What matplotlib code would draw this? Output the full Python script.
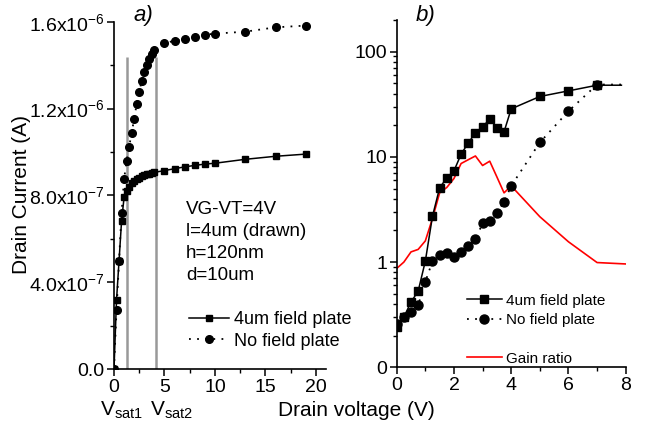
import matplotlib
matplotlib.use("Agg")
import matplotlib.pyplot as plt
from matplotlib.lines import Line2D
from matplotlib.ticker import MultipleLocator, LogLocator, FixedLocator, NullFormatter

plt.rcParams['font.family'] = ['Liberation Sans', 'DejaVu Sans']
plt.rcParams['mathtext.fontset'] = 'custom'
plt.rcParams['mathtext.rm'] = 'Liberation Sans'
plt.rcParams['mathtext.it'] = 'Liberation Sans:italic'

# ---- panel a: output characteristics (linear) ----
v_a = [0, 0.25, 0.5, 0.75, 1.0, 1.25, 1.5, 1.75, 2.0, 2.25, 2.5, 2.75, 3.0,
       3.25, 3.5, 3.75, 4.0, 5, 6, 7, 8, 9, 10, 13, 16, 19]
i_fieldplate = [0, 0.318, 0.499, 0.682, 0.791, 0.821, 0.840, 0.855, 0.866,
                0.875, 0.882, 0.888, 0.893, 0.897, 0.900, 0.903, 0.906,
                0.914, 0.923, 0.931, 0.938, 0.944, 0.948, 0.966, 0.980, 0.990]
i_nofieldplate = [0, 0.272, 0.498, 0.720, 0.875, 0.958, 1.024, 1.089, 1.152,
                  1.222, 1.278, 1.328, 1.368, 1.402, 1.430, 1.451, 1.470,
                  1.500, 1.513, 1.519, 1.528, 1.540, 1.545, 1.554, 1.574, 1.582]
v_sat = [1.25, 4.15]
yticks_a = [0, 0.4e-6, 0.8e-6, 1.2e-6, 1.6e-6]
ytick_labels_a = ['0.0', r'4.0x10$^{-7}$', r'8.0x10$^{-7}$',
                  r'1.2x10$^{-6}$', r'1.6x10$^{-6}$']
xticks_a = [0, 5, 10, 15, 20]
conditions = ['VG-VT=4V', 'l=4um (drawn)', 'h=120nm', 'd=10um']

# ---- panel b: log scale, with gain ratio ----
v_b = [0, 0.25, 0.5, 0.75, 1.0, 1.25, 1.5, 1.75, 2.0, 2.25, 2.5, 2.75, 3.0,
       3.25, 3.5, 3.75, 4.0, 5, 6, 7, 7.85]
g_fieldplate = [0.24, 0.30, 0.417, 0.53, 1.02, 2.73, 5.08, 6.32, 7.36, 10.6,
                13.6, 16.9, 19.3, 22.8, 19.0, 17.3, 28.6, 37.5, 42.4, 48.0, 48.0]
g_nofieldplate = [0.26, 0.30, 0.335, 0.39, 0.65, 1.02, 1.16, 1.22, 1.12, 1.24,
                  1.43, 1.65, 2.33, 2.47, 2.94, 3.74, 5.3, 13.7, 27.2, 48.7, 48.7]
v_gain = [0, 0.25, 0.5, 0.75, 1.0, 1.25, 1.5, 1.75, 2.0, 2.25, 2.5, 2.75, 3.0,
          3.25, 3.5, 3.75, 4.0, 5, 6, 7, 8]
gain_ratio = [0.87, 1.0, 1.25, 1.32, 1.59, 2.6, 4.55, 5.12, 6.23, 8.65, 9.4,
              10.2, 8.28, 9.1, 6.45, 4.55, 5.3, 2.7, 1.56, 0.99, 0.96]
yticks_b = [0.1, 1, 10, 100]
ytick_labels_b = ['0', '1', '10', '100']
xticks_b = [0, 2, 4, 6, 8]

W, H = 648, 425
fig = plt.figure(figsize=(W / 100, H / 100), dpi=100)


def axes_px(x0, y0, x1, y1):
    return fig.add_axes([x0 / W, 1 - y1 / H, (x1 - x0) / W, (y1 - y0) / H])


ax1 = axes_px(114, 21.7, 326, 369)
ax2 = axes_px(396.7, 20, 625.7, 367.3)

dotted = (0, (1, 3.5))
tick_fs = 14

for ax in (ax1, ax2):
    for s in ('top', 'right'):
        ax.spines[s].set_visible(False)
    for s in ('left', 'bottom'):
        ax.spines[s].set_linewidth(1.2)
    ax.tick_params(which='major', direction='out', length=5, width=1.1,
                   labelsize=tick_fs, pad=2)
    ax.tick_params(which='minor', direction='out', length=3, width=1.0)

# panel a
ax1.vlines(v_sat, 0, 1.437e-6, colors='#999999', linewidth=1.8, zorder=1)
ax1.plot(v_a, [i * 1e-6 for i in i_fieldplate], color='black', lw=1.1,
         marker='s', ms=5, label='4um field plate', zorder=3)
ax1.plot(v_a, [i * 1e-6 for i in i_nofieldplate], color='black', lw=1.3,
         ls=dotted, marker='o', ms=5.5, label='No field plate', zorder=3)
ax1.set_xlim(0, 21)
ax1.set_ylim(0, 1.6e-6)
ax1.set_xticks(xticks_a)
ax1.xaxis.set_minor_locator(MultipleLocator(2.5))
ax1.set_yticks(yticks_a, ytick_labels_a)
ax1.yaxis.set_minor_locator(MultipleLocator(0.2e-6))
for lab in ax1.get_yticklabels():
    lab.set_fontsize(tick_fs)

ax1.legend(loc='upper left', bbox_to_anchor=(180 / W, 1 - 302 / H),
           bbox_transform=fig.transFigure, frameon=False, fontsize=13,
           handlelength=2.2, handletextpad=0.3, borderpad=0,
           labelspacing=0.25)

for k, line in enumerate(conditions):
    fig.text(186 / W, 1 - (210 + 22 * k) / H, line, fontsize=13.5,
             ha='left', va='center')

fig.text(143 / W, 1 - 16 / H, 'a)', fontsize=16, style='italic',
         ha='center', va='center')
fig.text(121 / W, 1 - 410 / H, r'V$_{\mathrm{sat1}}$', fontsize=15,
         ha='center', va='center')
fig.text(171 / W, 1 - 410 / H, r'V$_{\mathrm{sat2}}$', fontsize=15,
         ha='center', va='center')
fig.text(22 / W, 1 - 195 / H, 'Drain Current (A)', fontsize=15,
         rotation=90, ha='center', va='center')
fig.text(356 / W, 1 - 410 / H, 'Drain voltage (V)', fontsize=15,
         ha='center', va='center')

# panel b
ax2.set_yscale('log')
marks = list(range(len(v_b) - 1))
h1, = ax2.plot(v_b, g_fieldplate, color='black', lw=1.1, marker='s', ms=6,
               markevery=marks, zorder=3)
h2, = ax2.plot(v_b, g_nofieldplate, color='black', lw=1.3, ls=dotted,
               marker='o', ms=6.5, markevery=marks, zorder=3)
h3, = ax2.plot(v_gain, gain_ratio, color='#ff0000', lw=1.2, zorder=2)
ax2.set_xlim(0, 8)
ax2.set_ylim(0.1, 200)
ax2.set_xticks(xticks_b)
ax2.xaxis.set_minor_locator(MultipleLocator(1))
ax2.yaxis.set_major_locator(FixedLocator(yticks_b))
ax2.set_yticks(yticks_b, ytick_labels_b)
ax2.yaxis.set_minor_locator(LogLocator(base=10, subs=range(2, 10)))
ax2.yaxis.set_minor_formatter(NullFormatter())
for lab in ax2.get_yticklabels():
    lab.set_fontsize(tick_fs)

blank = Line2D([], [], linestyle='none')
ax2.legend([h1, h2, blank, h3],
           ['4um field plate', 'No field plate', ' ', 'Gain ratio'],
           loc='upper left', bbox_to_anchor=(459 / W, 1 - 286 / H),
           bbox_transform=fig.transFigure, frameon=False, fontsize=11,
           handlelength=2.3, handletextpad=0.3, borderpad=0,
           labelspacing=0.35)

fig.text(426 / W, 1 - 15 / H, 'b)', fontsize=16, style='italic',
         ha='center', va='center')

fig.savefig('out.png', dpi=100)
